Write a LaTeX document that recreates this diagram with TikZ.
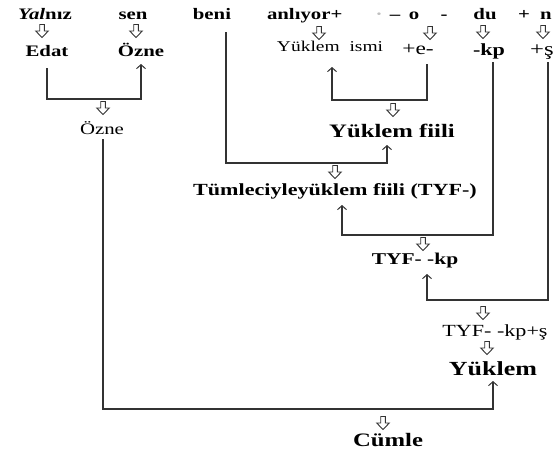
\documentclass[tikz,border=0pt]{standalone}
\usepackage{fontspec}
\usepackage{graphicx}
\setmainfont{Liberation Serif}
\usetikzlibrary{arrows.meta}
\newcommand\sx[2][1.3]{\scalebox{#1}[1]{#2}}
\definecolor{linecol}{HTML}{333333}
\tikzset{
  txt/.style={inner sep=0pt, outer sep=0pt, anchor=base},
  bfs/.style={txt, font=\bfseries\fontsize{#1}{#1}\selectfont},
  rms/.style={txt, font=\fontsize{#1}{#1}\selectfont},
  hollow/.pic={\draw[draw=linecol, line width=0.9pt, line join=miter]
     (-2.3,-6.5) -- (2.3,-6.5) -- (2.3,0) -- (6.3,0) -- (0,6.5) -- (-6.3,0) -- (-2.3,0) -- cycle;},
  conn/.style={draw=linecol, line width=1.2pt},
  tip/.style={-{Straight Barb[length=4pt,width=9pt,line width=1pt]}}
}
\begin{document}
\begin{tikzpicture}[x=1pt,y=-1pt]
\useasboundingbox (0,0) rectangle (557,450);
% top row
\node[bfs=16] (w1) at (45,19) {\sx{\textit{Yal}nız}};
\node[bfs=16] (w2) at (133,19) {\sx{sen}};
\node[bfs=16] (w3) at (212,19) {\sx{beni}};
\node[bfs=16,anchor=base west] (w4) at (267,19) {\sx{anlıyor+}};
\node[bfs=16,text=gray!50] (w5) at (379,19) {\sx{·}};
\node[bfs=16] (w6) at (395,19) {\sx{–}};
\node[bfs=16] (w7) at (414,19) {\sx{o}};
\node[bfs=16] (w8) at (444,19) {\sx{-}};
\node[bfs=16] (w9) at (485,19) {\sx{du}};
\node[bfs=16] (w10) at (524,19) {\sx{+}};
\node[bfs=16] (w11) at (546,19) {\sx{n}};
% hollow arrows row 1
\pic (h1) at (42,31) {hollow};
\pic (h2) at (136,31) {hollow};
\pic (h3) at (319,33) {hollow};
\pic (h4) at (430,33) {hollow};
\pic (h5) at (483,32) {hollow};
\pic (h6) at (543,32) {hollow};
% row 2
\node[bfs=16] (edat) at (47,56) {\sx{Edat}};
\node[bfs=16] (ozneb) at (141,56) {\sx{Özne}};
\node[rms=15] (yism) at (330,51) {\sx{Yüklem\ \ ismi}};
\node[rms=18] (ee) at (418,54) {\sx{+e-}};
\node[bfs=17] (kp) at (489,55) {\sx{-kp}};
\node[rms=19] (sh) at (542,55) {\sx{+ş}};
% lower nodes
\pic (h7) at (103,108) {hollow};
\node[rms=16] (ozner) at (102,134) {\sx{Özne}};
\pic (h8) at (393,110) {hollow};
\node[bfs=19] (yfiili) at (392,137) {\sx{Yüklem fiili}};
\pic (h9) at (335,172) {hollow};
\node[bfs=17] (tum) at (335,195) {\sx{Tümleciyleyüklem fiili (TYF-)}};
\pic (h10) at (423,244) {hollow};
\node[bfs=16.5] (tyfkp) at (415,264) {\sx{TYF- -kp}};
\pic (h11) at (483,313) {hollow};
\node[rms=17] (tyfkps) at (495,336) {\sx{TYF- -kp+ş}};
\pic (h12) at (487,348) {hollow};
\node[bfs=20] (yuklem) at (493,375) {\sx{Yüklem}};
\pic (h13) at (383,423) {hollow};
\node[bfs=19] (cumle) at (388,446) {\sx{Cümle}};
% connectors
\draw[conn,tip] ([yshift=-12pt]edat.base) -- ++(0,31) -| ([yshift=-8pt]ozneb.base);
\draw[conn,tip] ([xshift=9pt,yshift=-10pt]ee.base) -- ++(0,36) -| ([xshift=2pt,yshift=-16pt]yism.base);
\draw[conn,tip] ([xshift=14pt,yshift=-13pt]w3.base) -- ++(0,131) -| ([xshift=-5pt,yshift=-8pt]yfiili.base);
\draw[conn,tip] ([xshift=4pt,yshift=-7pt]kp.base) -- ++(0,173) -| ([xshift=7pt,yshift=-10pt]tum.base);
\draw[conn,tip] ([xshift=6pt,yshift=-7pt]sh.base) -- ++(0,238) -| ([xshift=12pt,yshift=-10pt]tyfkp.base);
\draw[conn,tip] ([xshift=1pt,yshift=-5pt]ozner.base) -- ++(0,270) -| ([yshift=-6pt]yuklem.base);
\end{tikzpicture}
\end{document}
